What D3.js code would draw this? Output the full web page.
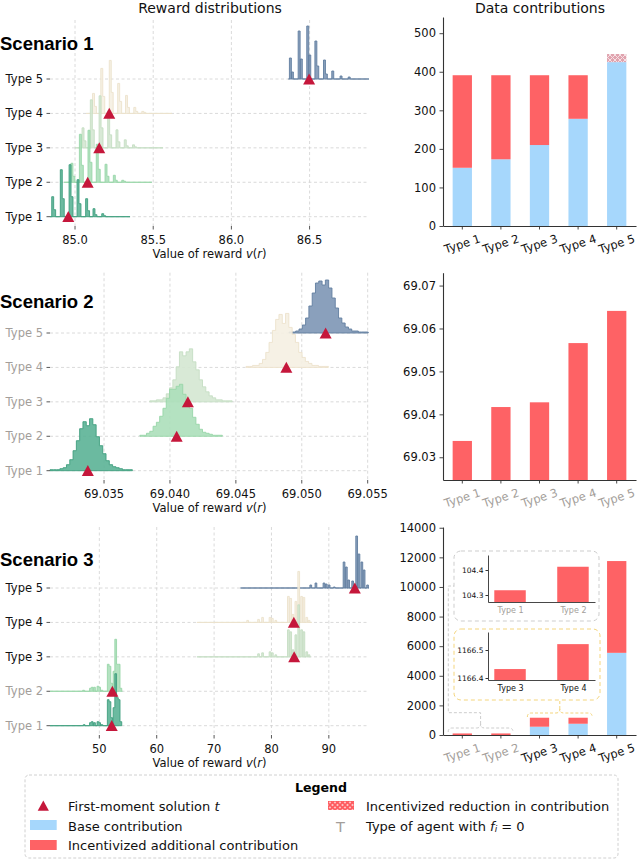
<!DOCTYPE html>
<html>
<head>
<meta charset="utf-8">
<script src="https://cdn.jsdelivr.net/npm/d3@7/dist/d3.min.js"></script>
<style>
html,body{margin:0;padding:0;background:#fff;}
svg{display:block;font-family:"DejaVu Sans",sans-serif;}
</style>
</head>
<body>
<svg id="chart" width="638" height="860"></svg>
<script>
const types = ["Type 1","Type 2","Type 3","Type 4","Type 5"];
const typeFill = ["#5bb396","#acdfba","#d4e7d2","#f5efe2","#7d96b5"];
const typeLine = ["#3f9f7e","#98d6a8","#c5dec3","#ece2cc","#627ea0"];
const baseColor = "#a6d7fc";
const extraColor = "#fe6265";
const markColor = "#c5173b";
const zeroColor = "#a39e9a";

// ---------- Scenario 1 ----------
const s1Ticks = [85.0, 85.5, 86.0, 86.5];
const s1Domain = [84.84, 86.88];
const s1BinW = 0.0125;
const s1T1 = [[84.851,20],[84.8635,7],[84.906,47],[84.9185,18],[84.962,52],[84.9745,20],[85.013,37],[85.0255,13],[85.068,18],[85.0805,6],[85.115,8],[85.1275,2],[85.171,3],[85.1835,1]];
const s1T2 = [[84.974,19],[84.9865,6],[85.028,48],[85.0405,17],[85.083,52],[85.0955,20],[85.136,38],[85.1485,13],[85.192,18],[85.2045,6],[85.245,7],[85.2575,2],[85.299,2],[85.3115,1]];
const s1T3 = [[85.045,20],[85.0575,7],[85.098,48],[85.1105,18],[85.154,52],[85.1665,20],[85.209,37],[85.2215,13],[85.262,18],[85.2745,6],[85.315,8],[85.3275,2],[85.368,3],[85.3805,1]];
const s1T4 = [[85.112,20],[85.1245,7],[85.165,45],[85.1775,17],[85.219,53],[85.2315,21],[85.273,30],[85.2855,12],[85.323,18],[85.3355,6],[85.376,6],[85.3885,2],[85.427,2],[85.4395,1]];
const s1T5 = [[86.371,21],[86.384,7],[86.427,48],[86.441,20],[86.482,53],[86.495,24],[86.534,38],[86.546,13],[86.589,19],[86.601,5],[86.642,8],[86.695,3],[86.747,2]];
const s1Span = [[84.84,85.352],[84.93,85.491],[85.0,85.563],[85.07,85.619],[86.365,86.88]];
const s1Mean = [84.957, 85.081, 85.155, 85.219, 86.497];
const s1Base = [151, 173, 210, 278, 425];
const s1Extra = [240, 218, 181, 113, 0];
const s1Reduce = [0, 0, 0, 0, 21];
const s1Zero = [0, 0, 0, 0, 0];
const s1YDomain = [0, 542];
const s1YTicks = [0, 100, 200, 300, 400, 500];

// ---------- Scenario 2 ----------
const s2Ticks = [69.035, 69.040, 69.045, 69.050, 69.055];
const s2Domain = [69.0309, 69.0551];
const s2BinW = 0.00025;
const s2Start = [69.0309, 69.03772, 69.03847, 69.04577, 69.04904];
const s2C1 = [1,1,1,2,3,6,11,20,30,42,49,45,52,46,34,25,17,10,6,4,3,2,1,1,1];
const s2C2 = [1,1,3,5,10,14,20,28,38,47,47,50,52,42,36,28,19,12,7,4,3,2,1,1,1];
const s2C3 = [1,1,2,2,4,8,14,22,35,50,46,50,53,40,32,22,15,10,6,4,2,2,1,1,1];
const s2C4 = [1,1,2,2,4,8,15,25,37,48,53,44,54,40,33,25,15,10,6,4,2,2,1,1,1];
const s2C5 = [1,1,2,4,8,15,27,40,50,52,48,53,45,35,25,15,10,6,4,2,2,1,1,1];
const s2Mean = [69.03377, 69.04051, 69.04136, 69.04883, 69.05181];
const s2Value = [69.0338, 69.0417, 69.0428, 69.0566, 69.0641];
const s2Zero = [1, 1, 1, 1, 1];
const s2YDomain = [69.0247, 69.073];
const s2YTicks = [69.03, 69.04, 69.05, 69.06, 69.07];

// ---------- Scenario 3 ----------
const s3Ticks = [50, 60, 70, 80, 90];
const s3Domain = [41.4, 97.0];
const s3BinW = 0.3;
const s3T1 = [[47.2,1],[48.3,3],[48.6,4],[49.0,3],[49.6,4],[49.9,3],[50.3,1],[51.4,26],[51.7,24],[52.0,8],[52.4,18],[52.7,52],[53.0,28],[53.3,26],[53.6,4]];
const s3T2 = [[47.1,1],[48.3,3],[48.6,4],[49.0,4],[49.6,5],[49.9,4],[50.3,1],[51.4,27],[51.7,25],[52.0,8],[52.4,20],[52.7,52],[53.0,27],[53.3,27],[53.6,3]];
const s3T3 = [[77.6,3],[78.3,4],[79.6,5],[80.0,4],[80.6,2],[82.8,27],[83.2,25],[83.6,7],[84.1,22],[84.6,52],[85.1,27],[85.5,25],[86.0,5],[86.4,2]];
const s3T4 = [[75.7,2],[77.6,3],[78.3,5],[79.6,5],[80.0,4],[80.6,2],[82.8,26],[83.2,24],[83.6,8],[84.1,21],[84.6,51],[85.1,26],[85.5,25],[86.0,5],[86.4,2]];
const s3T5 = [[86.7,3],[87.6,5],[89.0,5],[89.4,4],[89.9,3],[90.8,1],[92.5,26],[92.9,21],[93.3,8],[94.0,7],[94.7,52],[95.1,34],[95.6,26],[96.0,18],[96.6,3]];
const s3Span = [[41.4,53.9],[41.4,54.0],[67.0,86.8],[67.0,87.0],[74.6,97.0]];
const s3Mean = [52.16, 52.27, 83.96, 83.9, 94.53];
const s3Base = [0, 0, 560, 760, 5550];
const s3Extra = [104.3, 104.4, 606.4, 406.5, 6200];
const s3Reduce = [0, 0, 0, 0, 0];
const s3Zero = [1, 1, 0, 0, 0];
const s3YDomain = [0, 14050];
const s3YTicks = [0, 2000, 4000, 6000, 8000, 10000, 12000, 14000];
const inset1Types = ["Type 1", "Type 2"];
const inset1Value = [104.319, 104.413];
const inset1Ticks = [104.3, 104.4];
const inset1Domain = [104.272, 104.46];
const inset2Types = ["Type 3", "Type 4"];
const inset2Value = [1166.432, 1166.521];
const inset2Ticks = [1166.4, 1166.5];
const inset2Domain = [1166.3929, 1166.5643];

// ---------- drawing ----------
const svg = d3.select("#chart");
const defs = svg.append("defs");
const pBar = defs.append("pattern").attr("id","hatchBar").attr("patternUnits","userSpaceOnUse").attr("width",5).attr("height",5);
pBar.append("rect").attr("width",5).attr("height",5).attr("fill","#e0a3ae");
pBar.append("path").attr("d","M0,0L5,5M5,0L0,5").attr("stroke","#f6e0e4").attr("stroke-width",1);
const pLeg = defs.append("pattern").attr("id","hatchLeg").attr("patternUnits","userSpaceOnUse").attr("width",5).attr("height",5);
pLeg.append("rect").attr("width",5).attr("height",5).attr("fill","#ffc4c6");
pLeg.append("path").attr("d","M0,0L5,5M5,0L0,5").attr("stroke","#fe5a5e").attr("stroke-width",1.6);

const leftX = [50, 369];
const rightX = [443, 636];
const ink = "#111";

const scenarios = [
  {name:"Scenario 1", titleY:50, top:20, bottom:226, rtop:17,
   hist:[s1T1,s1T2,s1T3,s1T4,s1T5], binW:s1BinW, span:s1Span, mean:s1Mean,
   ticks:s1Ticks, domain:s1Domain, tickFmt:d3.format(".1f"), zero:s1Zero,
   base:s1Base, extra:s1Extra, reduce:s1Reduce, yDomain:s1YDomain, yTicks:s1YTicks, yFmt:d3.format("d")},
  {name:"Scenario 2", titleY:308, top:272.7, bottom:480, rtop:272.7,
   hist:[s2C1,s2C2,s2C3,s2C4,s2C5].map((c,i)=>c.map((v,j)=>[s2Start[i]+j*s2BinW, v])),
   binW:s2BinW,
   span:[s2C1,s2C2,s2C3,s2C4,s2C5].map((c,i)=>[s2Start[i], s2Start[i]+c.length*s2BinW]),
   mean:s2Mean, ticks:s2Ticks, domain:s2Domain, tickFmt:d3.format(".3f"), zero:s2Zero,
   base:[0,0,0,0,0], extra:s2Value, reduce:[0,0,0,0,0], yDomain:s2YDomain, yTicks:s2YTicks, yFmt:d3.format(".2f")},
  {name:"Scenario 3", titleY:566, top:527, bottom:735, rtop:527,
   hist:[s3T1,s3T2,s3T3,s3T4,s3T5], binW:s3BinW, span:s3Span, mean:s3Mean,
   ticks:s3Ticks, domain:s3Domain, tickFmt:d3.format("d"), zero:s3Zero,
   base:s3Base, extra:s3Extra, reduce:s3Reduce, yDomain:s3YDomain, yTicks:s3YTicks, yFmt:d3.format("d")}
];

function ridgePath(bins, w, span, x, y0, h) {
  const pts = [[span[0], 0]];
  let end = span[0];
  bins.slice().sort((a,b)=>a[0]-b[0]).forEach(([b0, c]) => {
    const s = Math.max(b0, end);
    if (s - end > 1e-12) { pts.push([end, 0]); pts.push([s, 0]); }
    pts.push([s, c]); pts.push([b0 + w, c]);
    end = b0 + w;
  });
  pts.push([end, 0]); pts.push([Math.max(end, span[1]), 0]);
  return "M" + pts.map(p => `${x(p[0]).toFixed(2)},${(y0 - h(p[1])).toFixed(2)}`).join("L") + "Z";
}

function drawLeft(sc) {
  const x = d3.scaleLinear().domain(sc.domain).range(leftX);
  const yRow = d3.scalePoint().domain(types).range([sc.bottom - 9.3, sc.bottom - 147]);
  const h = d3.scaleLinear().domain([0, 55]).range([0, 55]);
  const g = svg.append("g");
  g.selectAll("line.vg").data(sc.ticks).join("line").attr("class","vg")
    .attr("x1", d=>x(d)).attr("x2", d=>x(d)).attr("y1", sc.top).attr("y2", sc.bottom)
    .attr("stroke","#d0d0d0").attr("stroke-width",0.8).attr("stroke-dasharray","3,2.5");
  g.selectAll("line.hg").data(types).join("line").attr("class","hg")
    .attr("x1", leftX[0]).attr("x2", leftX[1]).attr("y1", d=>yRow(d)).attr("y2", d=>yRow(d))
    .attr("stroke","#d0d0d0").attr("stroke-width",0.8).attr("stroke-dasharray","3,2.5");
  for (let i = 4; i >= 0; i--) {
    g.append("path").attr("d", ridgePath(sc.hist[i], sc.binW, sc.span[i], x, yRow(types[i]), h))
      .attr("fill", typeFill[i]).attr("fill-opacity", 0.9)
      .attr("stroke", typeLine[i]).attr("stroke-width", 1).attr("stroke-opacity", 0.9);
  }
  g.selectAll("path.mk").data(sc.mean).join("path").attr("class","mk")
    .attr("d","M0,-5.6L6,5.4L-6,5.4Z")
    .attr("transform",(d,i)=>`translate(${x(d)},${yRow(types[i])})`)
    .attr("fill", markColor);
  g.selectAll("line.rt").data(types).join("line").attr("class","rt")
    .attr("x1", leftX[0]-3.5).attr("x2", leftX[0]).attr("y1", d=>yRow(d)).attr("y2", d=>yRow(d))
    .attr("stroke","#444").attr("stroke-width",0.9);
  g.selectAll("text.rl").data(types).join("text").attr("class","rl")
    .attr("x", leftX[0]-7).attr("y", d=>yRow(d)).attr("text-anchor","end")
    .attr("dominant-baseline","central").attr("font-size",11.5)
    .attr("fill",(d,i)=>sc.zero[i]?zeroColor:ink).text(d=>d);
  g.selectAll("line.bt").data(sc.ticks).join("line").attr("class","bt")
    .attr("x1", d=>x(d)).attr("x2", d=>x(d)).attr("y1", sc.bottom).attr("y2", sc.bottom+3.5)
    .attr("stroke","#444").attr("stroke-width",0.9);
  g.selectAll("text.bl").data(sc.ticks).join("text").attr("class","bl")
    .attr("x", d=>x(d)).attr("y", sc.bottom+14).attr("text-anchor","middle")
    .attr("dominant-baseline","central").attr("font-size",11.5).attr("fill",ink)
    .text(d=>sc.tickFmt(d));
  const lab = g.append("text").attr("x",(leftX[0]+leftX[1])/2).attr("y",sc.bottom+28)
    .attr("text-anchor","middle").attr("dominant-baseline","central").attr("font-size",11.5).attr("fill",ink);
  lab.append("tspan").text("Value of reward ");
  lab.append("tspan").attr("font-style","italic").text("v");
  lab.append("tspan").text("(");
  lab.append("tspan").attr("font-style","italic").text("r");
  lab.append("tspan").text(")");
  svg.append("text").attr("x",0).attr("y",sc.titleY)
    .style("font-family","'Liberation Sans', Arial, sans-serif")
    .attr("font-weight","bold").attr("font-size",18.5).attr("fill","#000").text(sc.name);
}

function styleAxis(a) {
  a.attr("font-family",null).attr("font-size",11.5);
  a.select(".domain").attr("stroke","#333").attr("stroke-width",1.1);
  a.selectAll(".tick line").attr("stroke","#333").attr("stroke-width",0.9);
  a.selectAll(".tick text").attr("fill",ink);
}

function drawRight(sc) {
  const x = d3.scaleBand().domain(types).range(rightX).paddingInner(0.5).paddingOuter(0.25);
  const y = d3.scaleLinear().domain(sc.yDomain).range([sc.bottom, sc.rtop]);
  const g = svg.append("g");
  const d0 = sc.yDomain[0];
  types.forEach((t, i) => {
    const b = sc.base[i], e = sc.extra[i], r = sc.reduce[i];
    if (b > d0) g.append("rect").attr("x", x(t)).attr("width", x.bandwidth())
      .attr("y", y(b)).attr("height", y(d0) - y(b)).attr("fill", baseColor);
    const s = Math.max(b, d0);
    if (e > 0) g.append("rect").attr("x", x(t)).attr("width", x.bandwidth())
      .attr("y", y(b + e)).attr("height", y(s) - y(b + e)).attr("fill", extraColor);
    if (r > 0) g.append("rect").attr("x", x(t)).attr("width", x.bandwidth())
      .attr("y", y(b + e + r)).attr("height", y(b + e) - y(b + e + r)).attr("fill", "url(#hatchBar)");
  });
  const ya = g.append("g").attr("transform",`translate(${rightX[0]},0)`)
    .call(d3.axisLeft(y).tickValues(sc.yTicks).tickFormat(sc.yFmt).tickSize(3.5).tickPadding(3.5).tickSizeOuter(0));
  styleAxis(ya);
  const xa = g.append("g").attr("transform",`translate(0,${sc.bottom})`)
    .call(d3.axisBottom(x).tickSize(3.5).tickSizeOuter(0));
  styleAxis(xa);
  xa.selectAll(".tick text").attr("y",0).attr("dy",null)
    .attr("transform","translate(0,18) rotate(-18)").attr("dominant-baseline","central")
    .attr("fill",(d,i)=>sc.zero[i]?zeroColor:ink);
  return {x, y};
}

function drawInset(box, stroke, names, vals, ticks, domain, colors) {
  const g = svg.append("g");
  g.append("rect").attr("x",box.x).attr("y",box.y).attr("width",box.w).attr("height",box.h).attr("rx",7)
    .attr("fill","#fff").attr("stroke",stroke).attr("stroke-width",1).attr("stroke-dasharray","4,3");
  const x = d3.scalePoint().domain(names).range([488, 595]).padding(0.35);
  const y = d3.scaleLinear().domain(domain).range([box.axBottom, box.axTop]);
  const bw = x.step() * 0.5;
  g.selectAll("rect.ib").data(vals).join("rect").attr("class","ib")
    .attr("x",(d,i)=>x(names[i]) - bw/2).attr("width",bw)
    .attr("y",d=>y(d)).attr("height",d=>y(domain[0]) - y(d)).attr("fill",extraColor);
  const ya = g.append("g").attr("transform","translate(488,0)")
    .call(d3.axisLeft(y).tickValues(ticks).tickFormat(d3.format(".1f")).tickSize(2.5).tickPadding(2).tickSizeOuter(0));
  ya.attr("font-family",null).attr("font-size",7.5);
  ya.select(".domain").attr("stroke","#333").attr("stroke-width",0.9);
  ya.selectAll(".tick line").attr("stroke","#333");
  ya.selectAll(".tick text").attr("fill",ink);
  const xa = g.append("g").attr("transform",`translate(0,${box.axBottom})`)
    .call(d3.axisBottom(x).tickSize(0).tickPadding(5).tickSizeOuter(0));
  xa.attr("font-family",null).attr("font-size",8);
  xa.select(".domain").attr("stroke","#333").attr("stroke-width",0.9);
  xa.selectAll(".tick text").attr("fill",(d,i)=>colors[i]);
}

function brace(x1, x2, yb, color) {
  const xm = (x1 + x2) / 2, r = 4;
  return svg.append("path")
    .attr("d", `M${x1},${yb+r}Q${x1},${yb} ${x1+r},${yb}L${xm-r},${yb}Q${xm},${yb} ${xm},${yb-r}Q${xm},${yb} ${xm+r},${yb}L${x2-r},${yb}Q${x2},${yb} ${x2},${yb+r}`)
    .attr("fill","none").attr("stroke",color).attr("stroke-width",1).attr("stroke-dasharray","3,2");
}

// titles
svg.append("text").attr("x",210).attr("y",8).attr("text-anchor","middle").attr("dominant-baseline","central")
  .attr("font-size",14).attr("fill",ink).text("Reward distributions");
svg.append("text").attr("x",540).attr("y",8).attr("text-anchor","middle").attr("dominant-baseline","central")
  .attr("font-size",14).attr("fill",ink).text("Data contributions");

let s3Scales;
scenarios.forEach((sc, k) => {
  drawLeft(sc);
  const s = drawRight(sc);
  if (k === 2) s3Scales = s;
});

// Scenario 3 insets and connectors
{
  const {x} = s3Scales;
  const bw = x.bandwidth();
  const gray = "#cdcdcd", gold = "#f4d57c";
  const g1a = x("Type 1") - 4.5, g1b = x("Type 2") + bw + 2.5;
  brace(g1a, g1b, 728, gray);
  const gm = (g1a + g1b) / 2;
  svg.append("path").attr("d",`M${gm},724L${gm},712.7L448.3,712.7L448.3,586L454,586`)
    .attr("fill","none").attr("stroke",gray).attr("stroke-width",1).attr("stroke-dasharray","3,2");
  const y1a = x("Type 3") - 2.5, y1b = x("Type 4") + bw + 4.5;
  brace(y1a, y1b, 713, gold);
  const ym = (y1a + y1b) / 2;
  svg.append("path").attr("d",`M${ym},709L${ym},700`)
    .attr("fill","none").attr("stroke",gold).attr("stroke-width",1).attr("stroke-dasharray","3,2");
  drawInset({x:454, y:551, w:145, h:70, axTop:555, axBottom:602}, gray,
    inset1Types, inset1Value, inset1Ticks, inset1Domain, [zeroColor, zeroColor]);
  drawInset({x:454, y:629, w:146, h:71, axTop:632, axBottom:680}, gold,
    inset2Types, inset2Value, inset2Ticks, inset2Domain, [ink, ink]);
}

// Legend
{
  const g = svg.append("g");
  g.append("rect").attr("x",25).attr("y",775).attr("width",593).attr("height",83).attr("rx",4)
    .attr("fill","#fff").attr("stroke","#d0d0d0").attr("stroke-width",1).attr("stroke-dasharray","3,2");
  g.append("text").attr("x",321).attr("y",787).attr("text-anchor","middle").attr("dominant-baseline","central")
    .attr("font-weight","bold").attr("font-size",12.6).attr("fill","#000").text("Legend");
  g.append("path").attr("d","M0,-5.2L5.6,5L-5.6,5Z").attr("transform","translate(43.3,805.7)").attr("fill",markColor);
  g.append("rect").attr("x",30).attr("y",820).attr("width",26.7).attr("height",10).attr("fill",baseColor);
  g.append("rect").attr("x",30).attr("y",840).attr("width",26.7).attr("height",10).attr("fill",extraColor);
  g.append("rect").attr("x",328).attr("y",801).attr("width",26).attr("height",9).attr("fill","url(#hatchLeg)");
  g.append("text").attr("x",340.5).attr("y",827).attr("text-anchor","middle").attr("dominant-baseline","central")
    .attr("font-size",14.5).attr("fill",zeroColor).text("T");
  const t1 = g.append("text").attr("x",68).attr("y",806).attr("dominant-baseline","central").attr("font-size",13).attr("fill",ink);
  t1.append("tspan").text("First-moment solution ");
  t1.append("tspan").attr("font-style","italic").text("t");
  g.append("text").attr("x",68).attr("y",826).attr("dominant-baseline","central").attr("font-size",13).attr("fill",ink).text("Base contribution");
  g.append("text").attr("x",68).attr("y",845.5).attr("dominant-baseline","central").attr("font-size",13).attr("fill",ink).text("Incentivized additional contribution");
  g.append("text").attr("x",366).attr("y",806).attr("dominant-baseline","central").attr("font-size",13).attr("fill",ink).text("Incentivized reduction in contribution");
  const t2 = g.append("text").attr("x",366).attr("y",826).attr("dominant-baseline","central").attr("font-size",13).attr("fill",ink);
  t2.append("tspan").text("Type of agent with ");
  t2.append("tspan").attr("font-style","italic").text("f");
  t2.append("tspan").attr("font-style","italic").attr("font-size",9).attr("dy",3).text("i");
  t2.append("tspan").attr("dy",-3).text(" = 0");
}
</script>
</body>
</html>
